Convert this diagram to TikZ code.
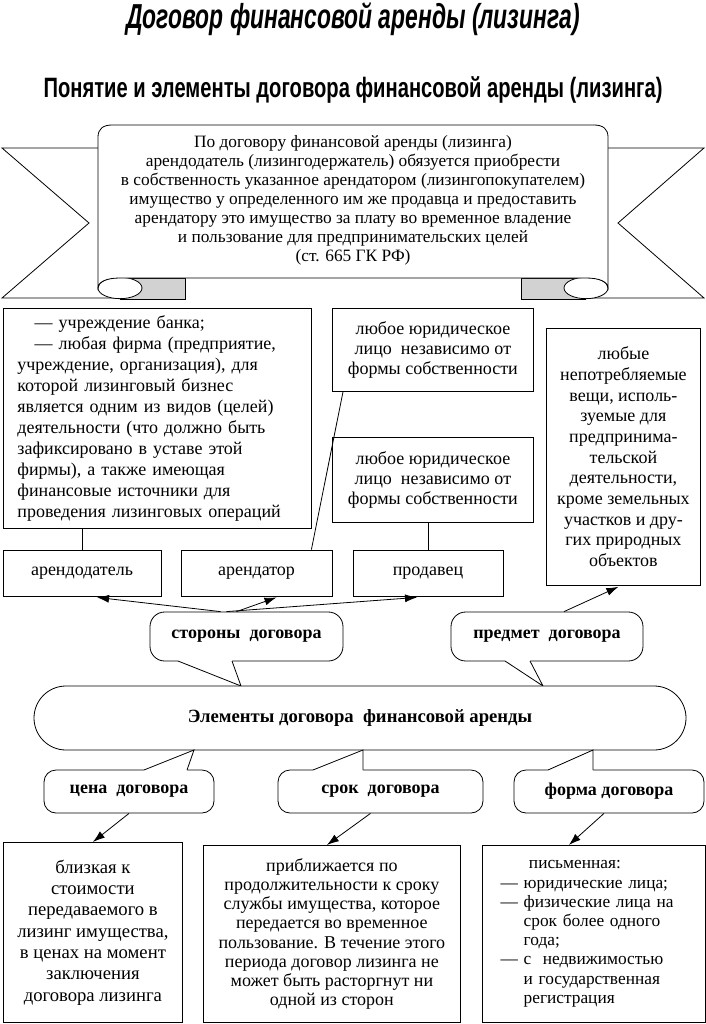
\documentclass[tikz,border=0pt]{standalone}
\usepackage{fontspec}
\setmainfont{Liberation Serif}
\newfontfamily\headfont[FakeStretch=0.72]{Liberation Sans}
\newfontfamily\titlefont[FakeStretch=0.66]{Liberation Sans}
\usetikzlibrary{arrows.meta,calc}

\tikzset{
  box/.style={draw, fill=white, inner sep=0pt, align=center,
    font=\fontsize{13.5pt}{15pt}\selectfont},
  bubble/.style={draw, fill=white, inner sep=0pt, rounded corners=11pt,
    font=\bfseries\fontsize{13.5pt}{15pt}\selectfont},
  arr/.style={-{Latex[length=9pt,width=6pt]}},
}

\begin{document}
\begin{tikzpicture}[x=0.75pt, y=-0.75pt, line width=0.6pt]
  \useasboundingbox (0,0) rectangle (706,1024);

  % headings
  \node[font=\titlefont\bfseries\itshape\fontsize{26pt}{28pt}\selectfont] (title) at (353,19) {Договор финансовой аренды (лизинга)};
  \node[font=\headfont\bfseries\fontsize{21pt}{23pt}\selectfont] (subtitle) at (353,90) {Понятие и элементы договора финансовой аренды (лизинга)};

  % ribbon with the definition
  \draw[fill=white] (98,148) -- (2,148) -- (89,223) -- (2,298) -- (185,298);
  \draw[fill=white] (608,148) -- (704,148) -- (618,223) -- (704,298) -- (521,298);
  \draw[fill=gray!35] (120,278) -- (185,278) -- (185,299) -- (120,299);
  \draw[fill=gray!35] (586,278) -- (521,278) -- (521,299) -- (586,299);
  \draw[fill=white] (120,288) ellipse [x radius=16.5pt, y radius=8pt];
  \draw[fill=white] (586,288) ellipse [x radius=16.5pt, y radius=8pt];
  \draw[fill=white] (98,288) -- (98,137) .. controls (98,129) and (103,125) .. (112,125)
    -- (594,125) .. controls (603,125) and (608,129) .. (608,137) -- (608,288)
    .. controls (608,282) and (600,278) .. (586,278) -- (120,278)
    .. controls (106,278) and (98,282) .. (98,288) -- cycle;
  \node[align=center, font=\fontsize{13pt}{14.25pt}\selectfont] (definition) at (353,200)
    {По договору финансовой аренды (лизинга)\\
     арендодатель (лизингодержатель) обязуется приобрести\\
     в собственность указанное арендатором (лизингопокупателем)\\
     имущество у определенного им же продавца и предоставить\\
     арендатору это имущество за плату во временное владение\\
     и пользование для предпринимательских целей\\
     (ст. 665 ГК РФ)};

  % who may be a party, what may be leased
  \node[box, anchor=north west, text width=210pt, inner xsep=10.5pt, minimum height=165pt,
    align=left, font=\fontsize{13.5pt}{15.75pt}\selectfont] (lessordesc) at (3,308)
    {\hspace*{13pt}— учреждение банка;\\
     \hspace*{13pt}— любая фирма (предприятие,\\
     учреждение, организация), для\\
     которой лизинговый бизнес\\
     является одним из видов (целей)\\
     деятельности (что должно быть\\
     зафиксировано в уставе этой\\
     фирмы), а также имеющая\\
     финансовые источники для\\
     проведения лизинговых операций};
  \node[box, anchor=north west, minimum width=150.75pt, minimum height=62.25pt] (lesseedesc) at (332,308)
    {любое юридическое\\ лицо\ \ независимо от\\ формы собственности};
  \node[box, anchor=north west, minimum width=150.75pt, minimum height=63.75pt] (sellerdesc) at (332,437)
    {любое юридическое\\ лицо\ \ независимо от\\ формы собственности};
  \node[box, anchor=north west, minimum width=115.5pt, minimum height=192.75pt,
    font=\fontsize{13.5pt}{15.5pt}\selectfont] (subjectdesc) at (546,328)
    {любые\\ непотребляемые\\ вещи, исполь-\\ зуемые для\\ предпринима-\\ тельской\\
     деятельности,\\ кроме земельных\\ участков и дру-\\ гих природных\\ объектов};

  % parties
  \node[box, minimum width=118.5pt, minimum height=34.5pt] (lessor) at (82,573) {арендодатель};
  \node[box, minimum width=113.25pt, minimum height=34.5pt] (lessee) at (256.5,573) {арендатор};
  \node[box, minimum width=112.5pt, minimum height=34.5pt] (seller) at (428,573) {продавец};

  \draw (lessor.north) -- (lessor.north |- lessordesc.south);
  \draw ($(lesseedesc.south west)+(11,0)$) -- ($(lessee.north east)+(-21,0)$);
  \draw (seller.north) -- (seller.north |- sellerdesc.south);

  % callouts above the elements
  \node[bubble, minimum width=144.75pt, minimum height=36.75pt] (parties) at (246.5,636.5) {стороны\ \ договора};
  \node[bubble, minimum width=144pt, minimum height=36.75pt] (subject) at (547,636.5) {предмет\ \ договора};
  \fill[white] (178,661) -- (241,686) -- (232,661) -- (232,658) -- (178,658) -- cycle;
  \draw (178,661) -- (241,686) -- (232,661);
  \fill[white] (505,661) -- (543,686) -- (530,661) -- (530,658) -- (505,658) -- cycle;
  \draw (505,661) -- (543,686) -- (530,661);

  \draw[arr] ($(parties.north)+(-26,0)$) -- ($(lessor.south)+(15,1)$);
  \draw[arr] ($(parties.north)+(-10,0)$) -- ($(lessee.south)+(20,1)$);
  \draw[arr] ($(parties.north)+(-20,0)$) -- ($(seller.south)+(-11,1)$);
  \draw[arr] ($(subject.north)+(17,0)$) -- ($(subjectdesc.south)+(-5,1)$);

  % elements
  \node[draw, fill=white, rounded corners=24pt, minimum width=489pt, minimum height=48pt,
    font=\bfseries\fontsize{14pt}{16pt}\selectfont] (elements) at (360,718)
    {Элементы договора\ \ финансовой аренды};

  % callouts below the elements
  \node[bubble, rounded corners=9pt, minimum width=127.5pt, minimum height=32.25pt] (price) at (129,791.5) {цена\ \ договора};
  \node[bubble, rounded corners=9pt, minimum width=153.75pt, minimum height=32.25pt] (term) at (380.5,791.5) {срок\ \ договора};
  \node[bubble, rounded corners=9pt, minimum width=142.5pt, minimum height=32.25pt] (form) at (609,791.5) {форма договора};
  \fill[white] (144,770) -- (194,750) -- (187,770) -- (187,773) -- (144,773) -- cycle;
  \draw (144,770) -- (194,750) -- (187,770);
  \fill[white] (313,770) -- (363,750) -- (363,770) -- (363,773) -- (313,773) -- cycle;
  \draw (313,770) -- (363,750) -- (363,770);
  \fill[white] (548,770) -- (593,750) -- (593,770) -- (593,773) -- (548,773) -- cycle;
  \draw (548,770) -- (593,750) -- (593,770);

  % descriptions of the elements
  \node[box, anchor=north west, minimum width=134.25pt, minimum height=135pt,
    font=\fontsize{14pt}{16pt}\selectfont] (pricedesc) at (3,842)
    {близкая к\\ стоимости\\ передаваемого в\\ лизинг имущества,\\ в ценах на момент\\ заключения\\ договора лизинга};
  \node[box, anchor=north west, minimum width=192.75pt, minimum height=132.75pt,
    font=\fontsize{13.5pt}{14.4pt}\selectfont] (termdesc) at (203,845)
    {приближается по\\ продолжительности к сроку\\ службы имущества, которое\\ передается во временное\\
     пользование. В течение этого\\ периода договор лизинга не\\ может быть расторгнут ни\\ одной из сторон};
  \node[box, anchor=north west, text width=140pt, inner xsep=13.6pt, minimum height=132.75pt,
    align=left, font=\fontsize{13pt}{14.4pt}\selectfont] (formdesc) at (482,845)
    {\phantom{— }\hspace*{4pt}письменная:\\
     — юридические лица;\\
     — физические лица на\\
     \phantom{— }срок более одного\\
     \phantom{— }года;\\
     — с\ \ недвижимостью\\
     \phantom{— }и государственная\\
     \phantom{— }регистрация};

  \draw[arr] (price.south) -- (pricedesc.north);
  \draw[arr] ($(term.south)+(-10,0)$) -- ($(termdesc.north)+(-5,0)$);
  \draw[arr] ($(form.south)+(-5,0)$) -- ($(formdesc.north)+(-25,0)$);
\end{tikzpicture}
\end{document}
